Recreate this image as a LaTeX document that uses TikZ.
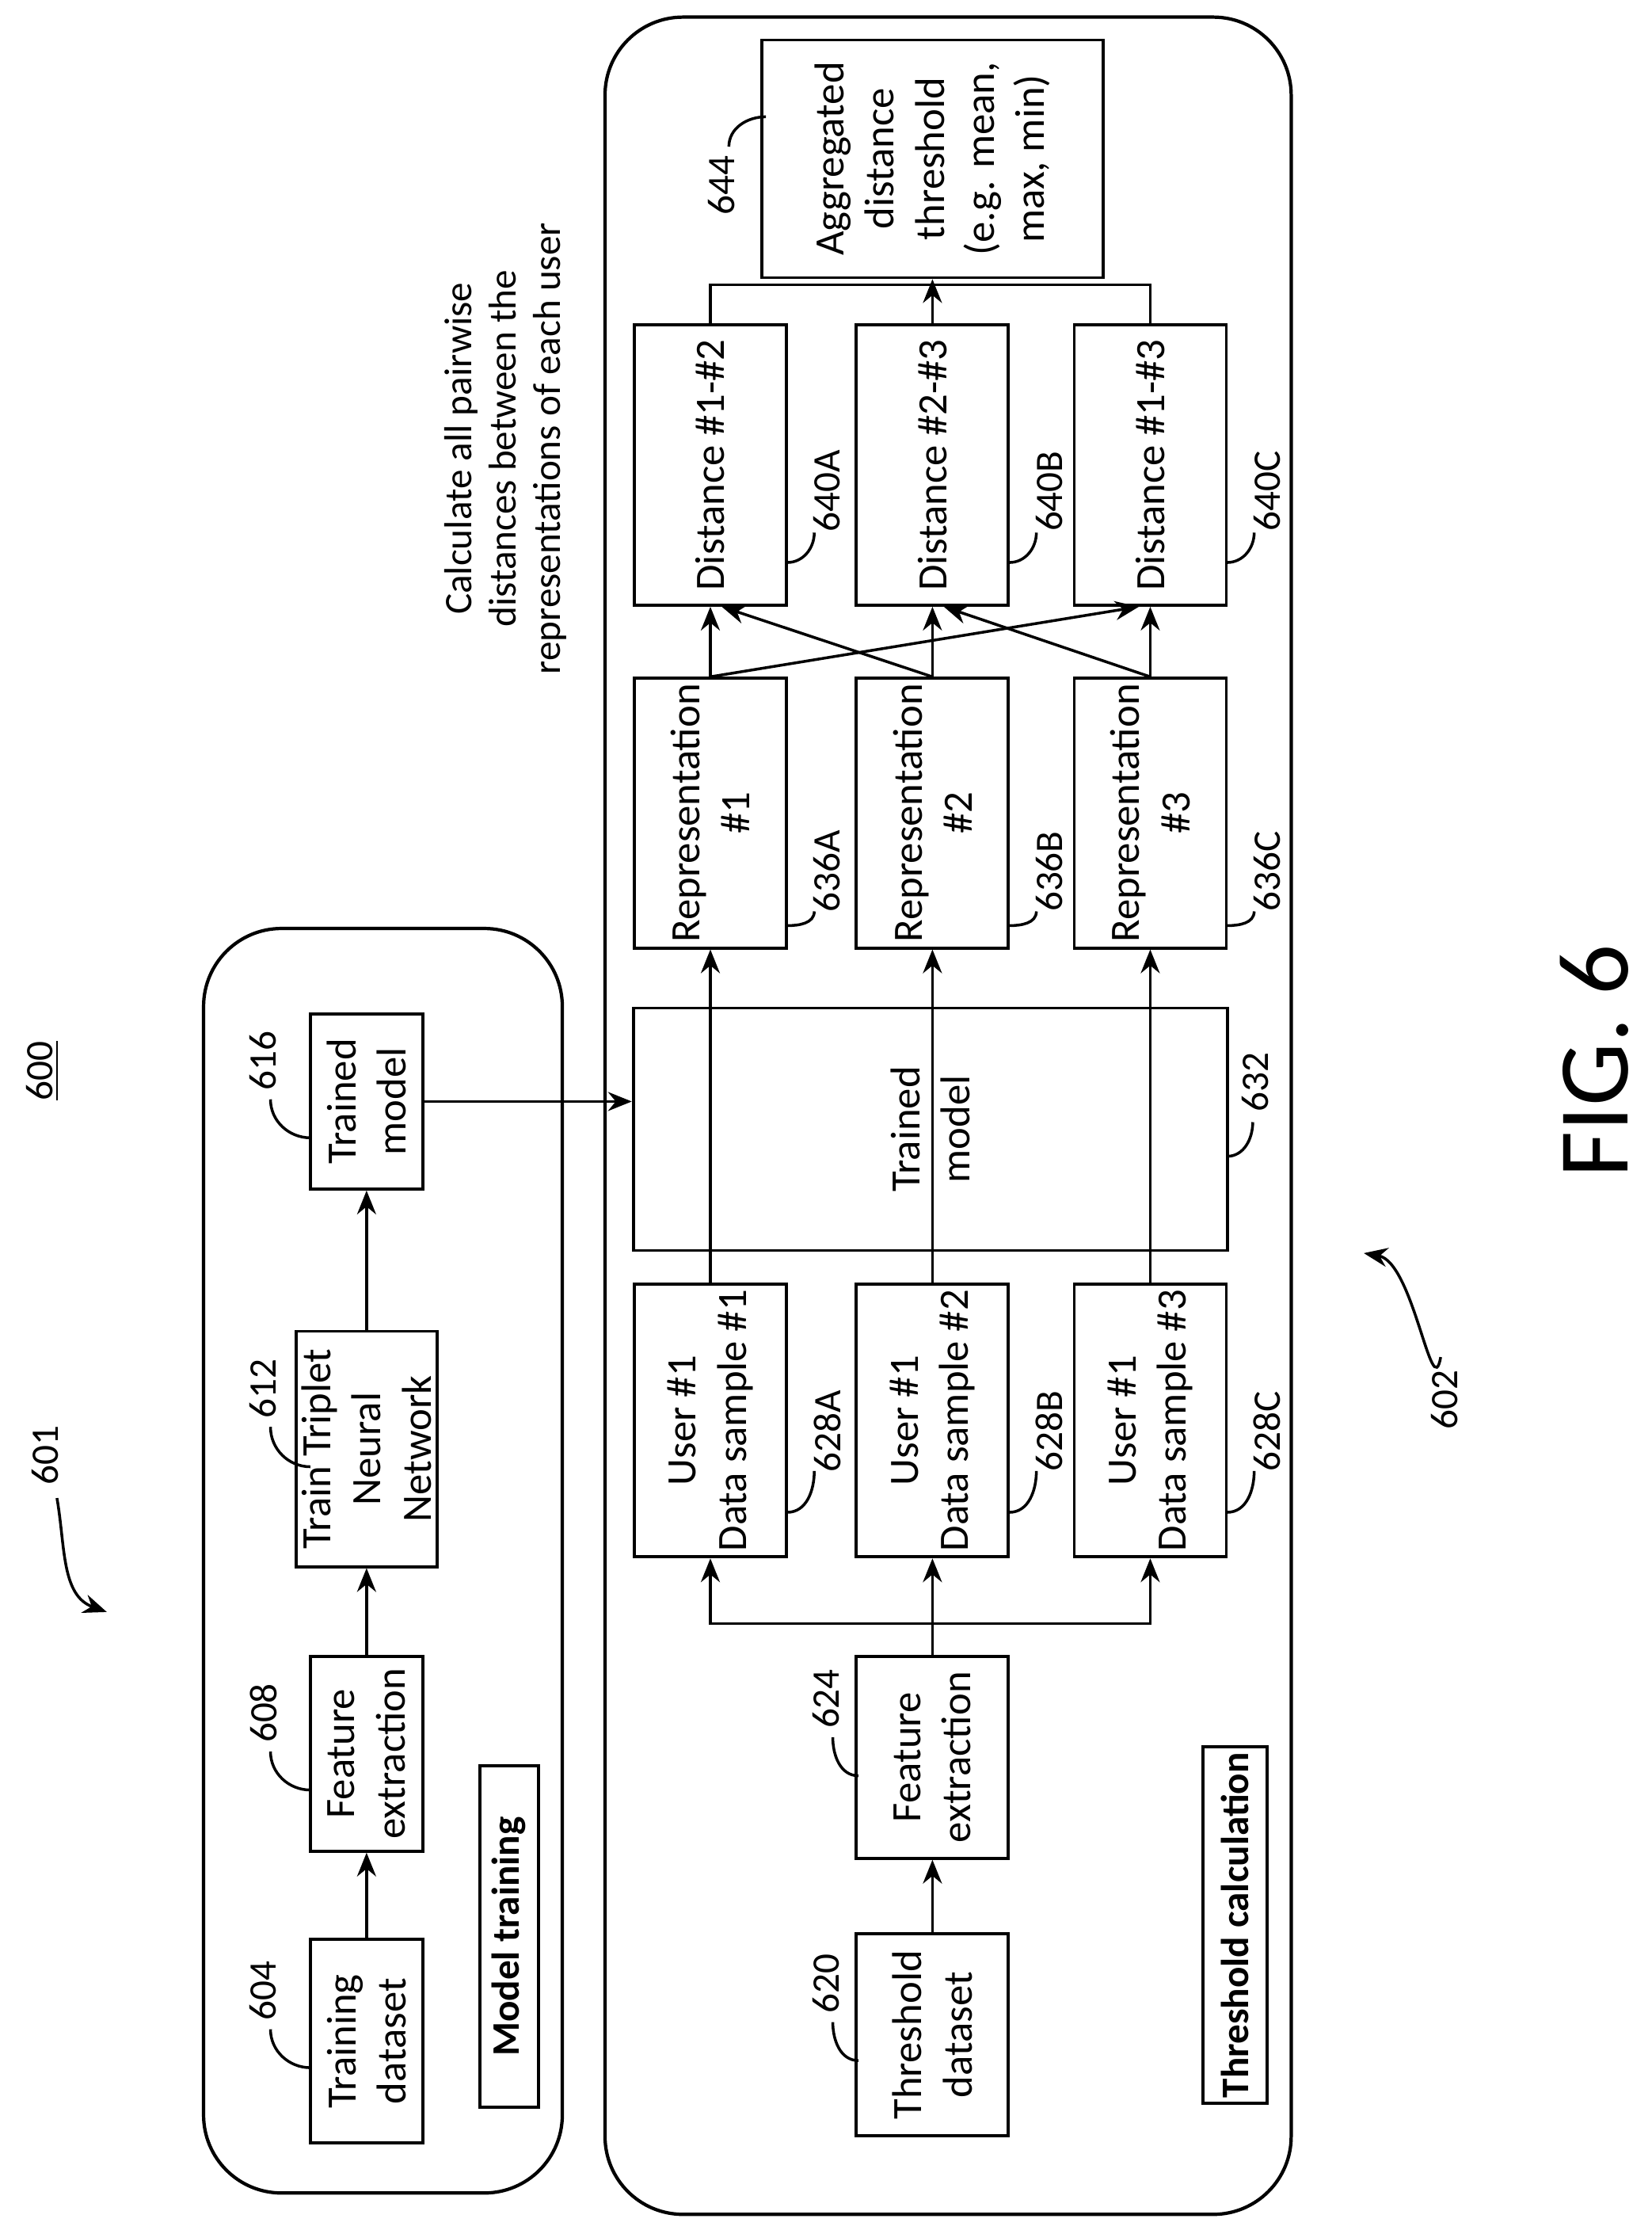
\documentclass[tikz,border=0pt]{standalone}
\usepackage{fontspec}
\setmainfont{Carlito}
\usetikzlibrary{arrows.meta,calc}
\begin{document}
\begin{tikzpicture}[x=0.017974cm,y=-0.017974cm,
  box/.style={draw,line width=1.1pt,rotate=90,align=center,inner sep=2pt,font=\fontsize{15}{18}\selectfont},
  lbl/.style={rotate=90,font=\fontsize{14}{16}\selectfont},
  arr/.style={line width=1pt,-{Stealth[length=3mm,width=2.4mm]}},
  ln/.style={line width=1pt},
  grp/.style={draw,line width=1.2pt,rounded corners=28pt}]
\useasboundingbox (0,0) rectangle (1160,1566);
% groups
\draw[grp] (143,652) rectangle (395,1540);
\draw[grp] (425,12) rectangle (907,1555);
% left column
\node[box,minimum width=2.57cm,minimum height=1.42cm] (td) at (257.5,1433.5) {Training\\dataset};
\node[box,minimum width=2.46cm,minimum height=1.42cm] (fe1) at (257.5,1231.5) {Feature\\extraction};
\node[box,minimum width=2.97cm,minimum height=1.42cm] (tt) at (257.5,1017.5) {Train Triplet\\Neural\\Network};
\node[box,minimum width=2.21cm,minimum height=1.42cm] (tm1) at (257.5,773.5) {Trained\\model};
\node[box,minimum width=4.31cm,minimum height=0.74cm,font=\fontsize{14}{16}\selectfont\bfseries] (mt) at (357.5,1360) {Model training};
\draw[arr] (td) -- (fe1);
\draw[arr] (fe1) -- (tt);
\draw[arr] (tt) -- (tm1);
% right
\node[box,minimum width=2.55cm,minimum height=1.92cm] (thd) at (655,1429) {Threshold\\dataset};
\node[box,minimum width=2.55cm,minimum height=1.92cm] (fe2) at (655,1234) {Feature\\extraction};
\node[box,minimum width=4.22cm,minimum height=0.81cm,font=\fontsize{14}{16}\selectfont\bfseries] (tc) at (867.5,1352) {Threshold calculation};
\node[box,minimum width=3.06cm,minimum height=7.50cm] (tm2) at (653.5,793) {Trained\\model};
\foreach \i/\x/\s in {1/499/A,2/655/B,3/808/C}{
  \node[box,minimum width=2.97cm,minimum height=1.92cm] (u\i) at (\x,997.5) {User \#1\\Data sample \#\i};
  \node[box,minimum width=3.38cm,minimum height=1.92cm] (r\i) at (\x,571) {Representation\\\#\i};
  \draw[arr] (u\i.east) -- (r\i.west);
  \node[lbl] (lu\i) at (\x+82,1005) {628\s};
  \draw[ln] (\x+54,1062) to[out=0,in=-90] (\x+73,1033);
  \node[lbl] (lr\i) at (\x+82,612) {636\s};
  \draw[ln] (\x+54,650) to[out=0,in=-90] (\x+73,640);
  \node[lbl] (ld\i) at (\x+82,345) {640\s};
  \draw[ln] (\x+54,395) to[out=0,in=-90] (\x+73,374);
}
\node[box,minimum width=3.54cm,minimum height=1.92cm] (d1) at (499,326.5) {Distance \#1-\#2};
\node[box,minimum width=3.54cm,minimum height=1.92cm] (d2) at (655,326.5) {Distance \#2-\#3};
\node[box,minimum width=3.54cm,minimum height=1.92cm] (d3) at (808,326.5) {Distance \#1-\#3};
\node[box,minimum width=3.0cm,minimum height=4.31cm] (ag) at (655,111.5) {Aggregated\\distance\\threshold\\(e.g. mean,\\max, min)};
\draw[arr] (thd) -- (fe2);
\coordinate (br) at (655,1140);
\draw[ln] (fe2.east) -- (br);
\draw[arr] (br) -| (u1.west);
\draw[arr] (br) -| (u3.west);
\draw[arr] (br) -- (u2.west);
\draw[arr] (tm1.south) -- (tm1.south -| tm2.north);
\draw[arr] (r1.east) -- (d1.west);
\draw[arr] (r2.east) -- (d2.west);
\draw[arr] (r3.east) -- (d3.west);
\draw[arr] (r2.east) -- ($(d1.west)+(8,0)$);
\draw[arr] (r3.east) -- ($(d2.west)+(8,0)$);
\draw[arr] (r1.east) -- ($(d3.west)+(-8,0)$);
\coordinate (agj) at (655,200);
\draw[ln] (d1.east) |- (agj) -| (d3.east);
\draw[arr] (d2.east) -- (ag.west);
% labels
\node[lbl] (l604) at (185,1398) {604};
\draw[ln] (190,1425) to[out=-90,in=180] (218,1452);
\node[lbl] (l608) at (185,1203) {608};
\draw[ln] (190,1230) to[out=-90,in=180] (218,1257);
\node[lbl] (l612) at (185,975) {612};
\draw[ln] (190,1002) to[out=-90,in=180] (218,1030);
\node[lbl] (l616) at (185,745) {616};
\draw[ln] (190,772) to[out=-90,in=180] (218,799);
\node[lbl] (l620) at (580,1393) {620};
\draw[ln] (585,1420) to[out=-90,in=180] (603,1447);
\node[lbl] (l624) at (580,1193) {624};
\draw[ln] (585,1220) to[out=-90,in=180] (603,1247);
\node[lbl] (l632) at (882,760) {632};
\draw[ln] (862,812) to[out=0,in=-90] (880,788);
\node[lbl] (l644) at (507,130) {644};
\draw[ln] (512,103) to[out=90,in=180] (538,82);
\node[lbl,align=center] (top) at (355,315) {Calculate all pairwise\\distances between the\\representations of each user};
\node[lbl] (l600) at (30,752) {\underline{600}};
\node[lbl] (l601) at (32,1022) {601};
\draw[arr] (40,1052) to[out=-80,in=160] (75,1132);
\node[lbl] (l602) at (1015,983) {602};
\draw[arr] (1012,953) to[out=-100,in=-10] (958,880);
\node[rotate=90,font=\fontsize{36}{40}\selectfont] (fig) at (1120,745) {FIG. 6};
\end{tikzpicture}
\end{document}
